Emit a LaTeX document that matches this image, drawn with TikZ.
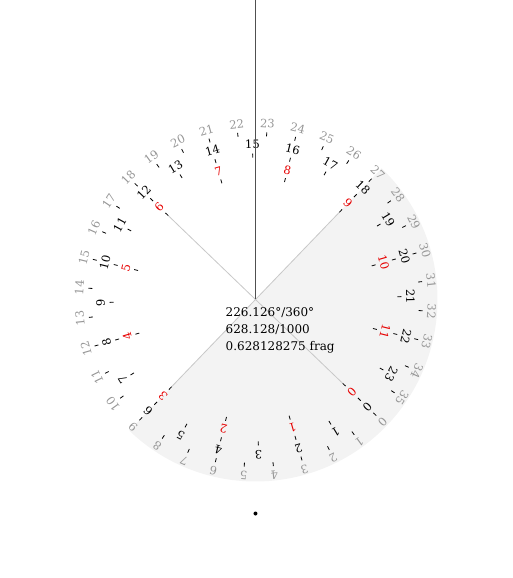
\documentclass[tikz,border=0pt]{standalone}
\usepackage{fontspec}
\setmainfont{DejaVu Serif}
\usepackage{tikz}
\usetikzlibrary{calc}

\definecolor{dialgray}{RGB}{150,150,150}
\definecolor{halfshade}{RGB}{243,243,243}
\definecolor{spokegray}{RGB}{200,200,200}
\definecolor{needlegray}{RGB}{80,80,80}
\definecolor{dialred}{RGB}{230,0,0}

\def\frag{0.628128275}

\tikzset{
  lbl/.style={inner sep=0, font=\fontsize{11.5}{12}\selectfont},
  tickmark/.style={line width=0.8pt, black},
  spoke/.style={spokegray, line width=0.8pt},
  needle/.style={needlegray, line width=1.5pt}
}

\begin{document}
\begin{tikzpicture}[x=1pt, y=1pt]
  \useasboundingbox (-255.5,-278.5) rectangle (256.5,299.5);
  \coordinate (c) at (0,0);
  \coordinate (top) at (0,299.5);

  % half disc round the zero mark
  \pgfmathsetmacro\halfstart{90-(0.75-\frag)*360}
  \fill[halfshade] (c) -- (\halfstart:182) arc[start angle=\halfstart, delta angle=-180, radius=182] -- cycle;

  % quarter spokes
  \foreach \q in {0,1,2,3} {
    \pgfmathsetmacro\ang{90-(\q/4-\frag)*360}
    \coordinate (q\q) at (\ang:121);
    \draw[spoke] (c) -- (q\q);
  }

  % inner ring, twelfths
  \foreach \k in {0,...,11} {
    \pgfmathsetmacro\ang{90-(\k/12-\frag)*360}
    \draw[tickmark] (\ang:121) -- (\ang:125);
    \node[lbl, text=dialred, rotate=\ang-90] (r\k) at (\ang:133.5) {\k};
  }
  % middle ring, 24ths
  \foreach \k in {0,...,23} {
    \pgfmathsetmacro\ang{90-(\k/24-\frag)*360}
    \draw[tickmark] (\ang:142) -- (\ang:146);
    \node[lbl, text=black, rotate=\ang-90] (b\k) at (\ang:155) {\k};
  }
  % outer ring, degrees by ten
  \foreach \k in {0,...,35} {
    \pgfmathsetmacro\ang{90-(\k/36-\frag)*360}
    \draw[tickmark] (\ang:163.5) -- (\ang:167.5);
    \node[lbl, text=dialgray, rotate=\ang-90] (g\k) at (\ang:176.5) {\k};
  }

  \draw[needle] (c) -- (top);

  \node[anchor=north west, inner sep=0, align=left,
        font=\fontsize{12}{17}\selectfont] (readout) at (-30,-8)
    {226.126\textdegree/360\textdegree\\628.128/1000\\0.628128275 frag};

  \node[circle, fill=black, inner sep=0, minimum size=4pt] (pin) at (0,-214) {};
\end{tikzpicture}
\end{document}
